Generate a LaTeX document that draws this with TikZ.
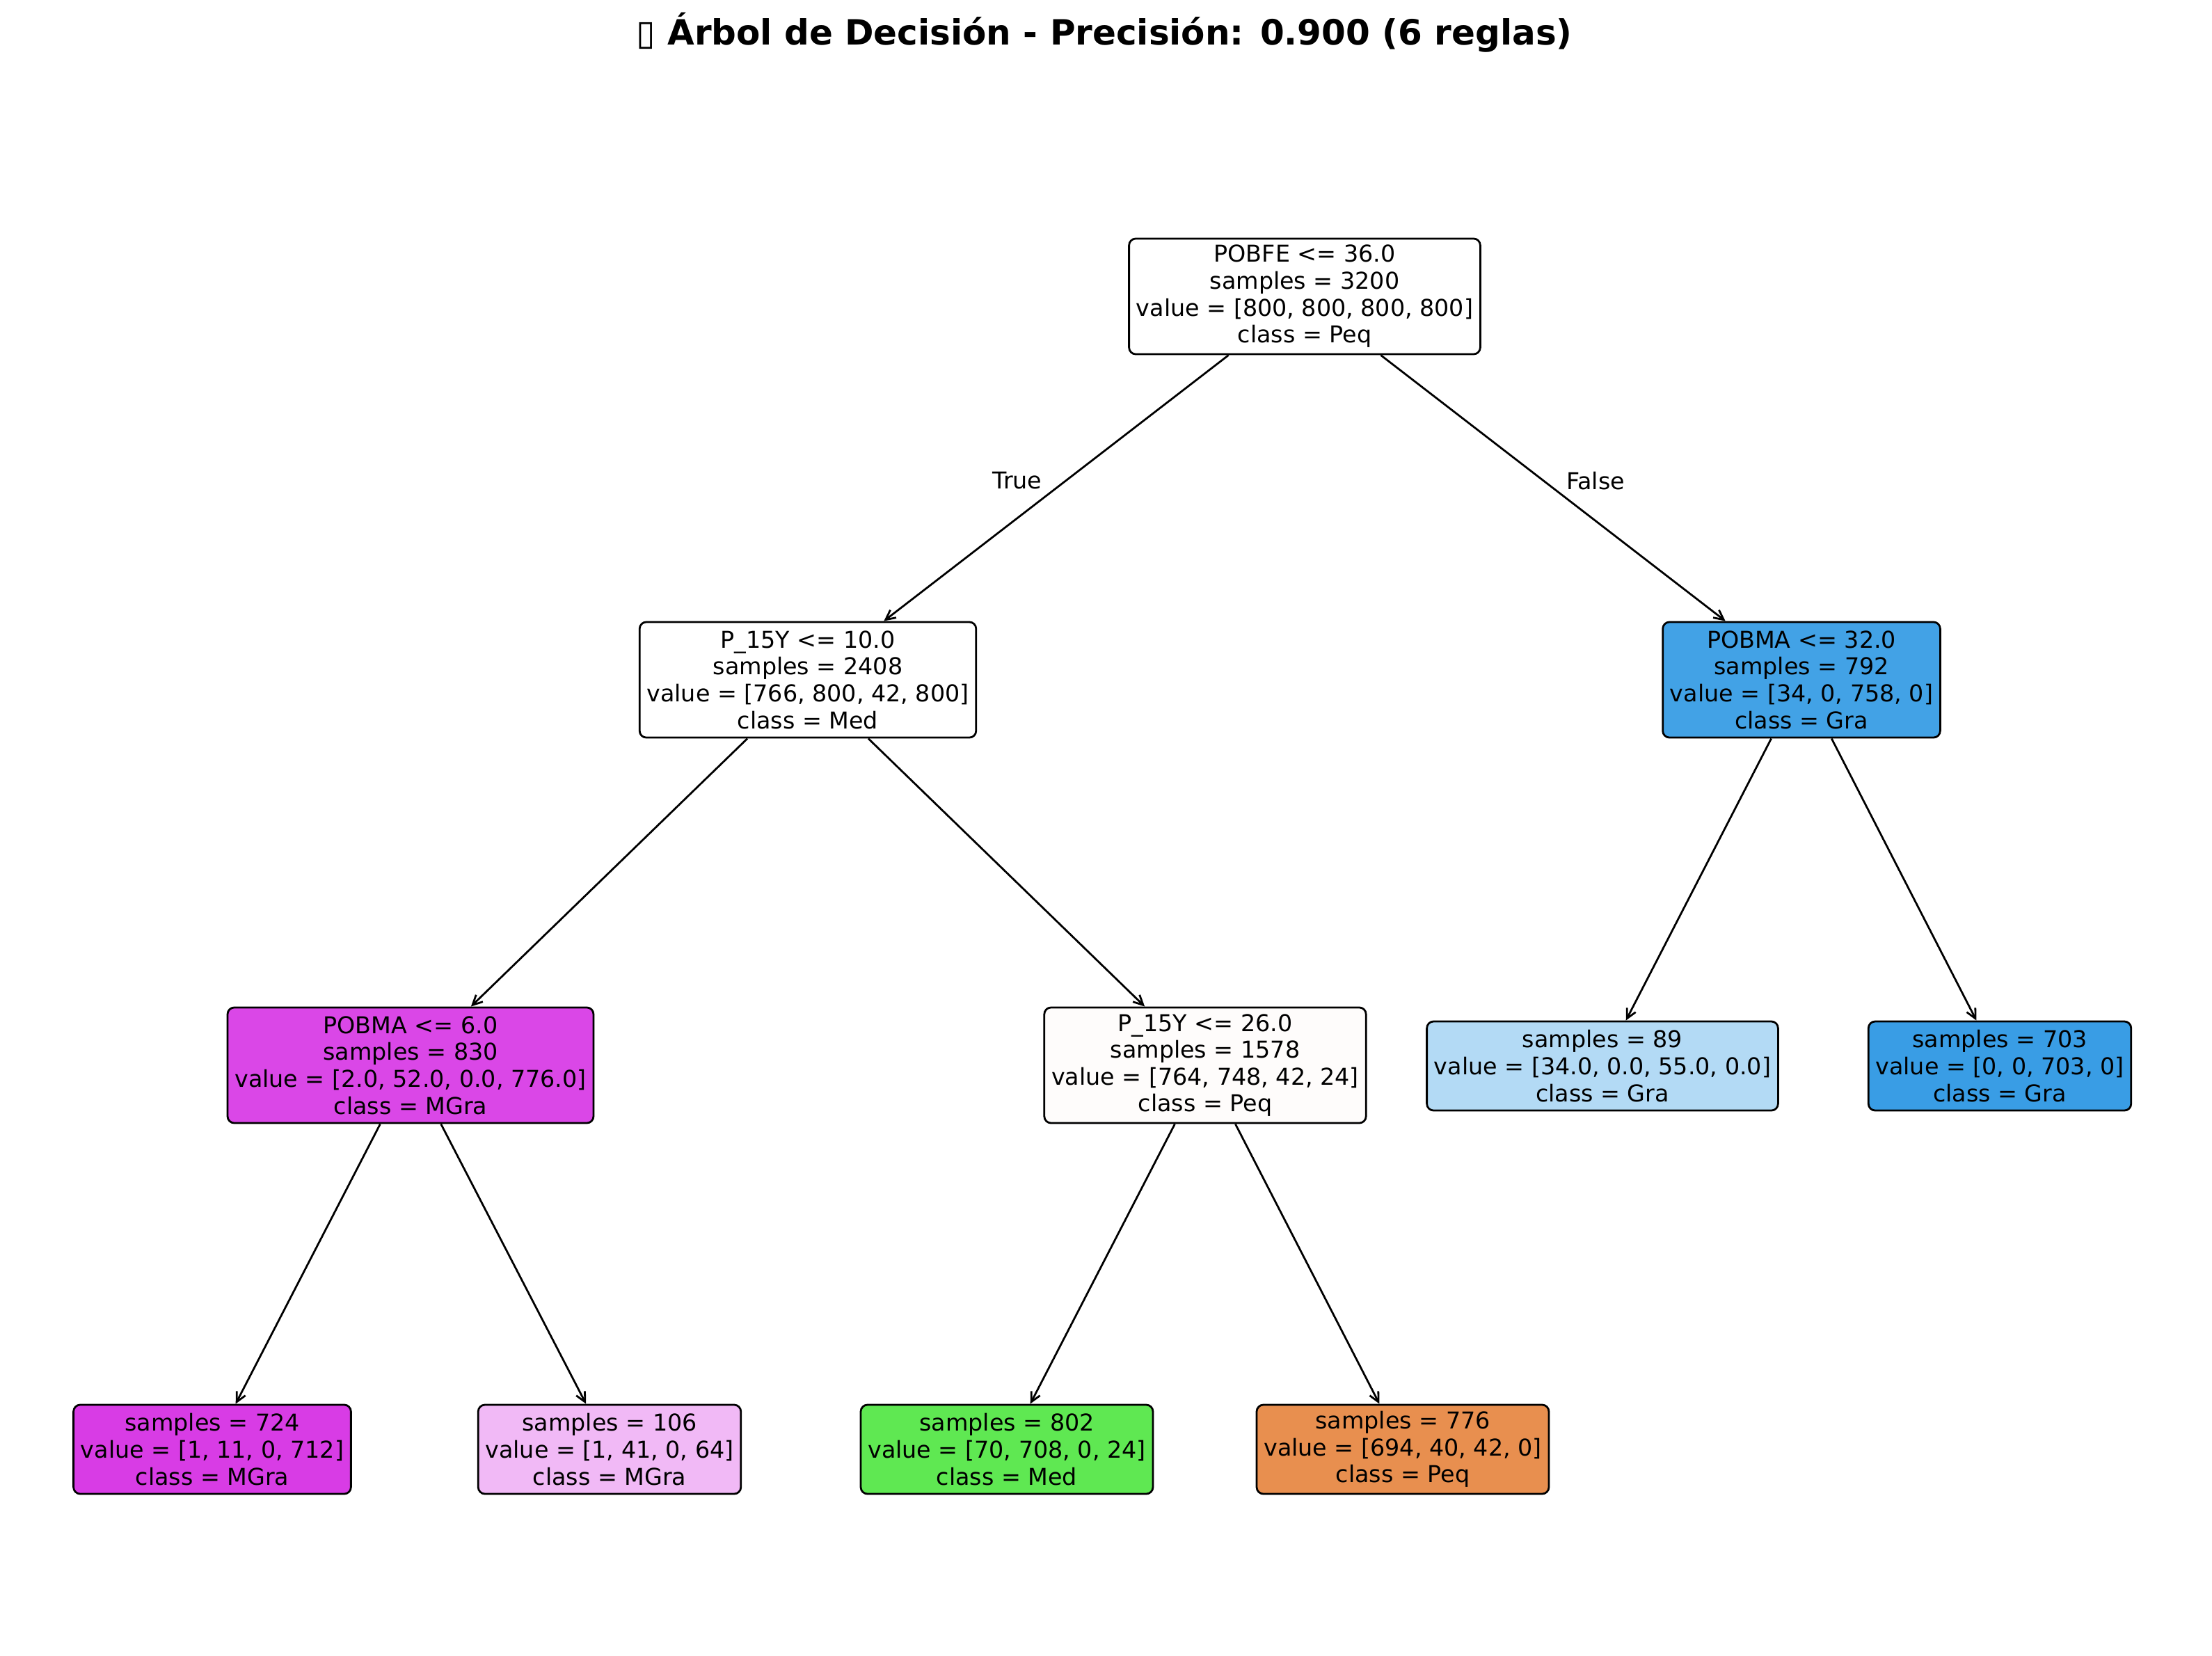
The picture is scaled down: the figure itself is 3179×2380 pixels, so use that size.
\documentclass[tikz,border=0pt]{standalone}
\usepackage{fontspec}
\setmainfont{DejaVu Sans}
\usetikzlibrary{arrows.meta}

\definecolor{gra}{HTML}{42A2E6}
\definecolor{grafull}{HTML}{399DE5}
\definecolor{gralight}{HTML}{B3DAF5}
\definecolor{mgra}{HTML}{DA47E7}
\definecolor{mgrafull}{HTML}{D83CE5}
\definecolor{mgralight}{HTML}{F1B9F6}
\definecolor{med}{HTML}{5FE852}
\definecolor{peq}{HTML}{E88F4F}
\definecolor{peqlight}{HTML}{FEFCFB}

\begin{document}
\begin{tikzpicture}
[x=0.36pt,y=-0.36pt,line width=1pt,
 treebox/.style={draw=black,fill=white,rounded corners=3.5pt,align=center,
   inner xsep=3.7pt,inner ysep=3.3pt,font=\fontsize{12}{13.9}\selectfont},
 split/.style={treebox,minimum height=59.8pt},
 leaf/.style={treebox,minimum height=46.1pt},
 edge/.style={-{Straight Barb[length=5pt,width=5pt]}},
 lbl/.style={font=\fontsize{12}{14}\selectfont}]

\useasboundingbox (0,0) rectangle (3179,2380);

\node (title) at (1587,47) {\fontsize{18}{21}\selectfont\bfseries ▯ Árbol de Decisión - Precisión: 0.900 (6 reglas)};

\node[split] (root) at (1875,426) {POBFE <= 36.0\\samples = 3200\\value = [800, 800, 800, 800]\\class = Peq}; %root
\node[split] (left) at (1161,977) {P\_15Y <= 10.0\\samples = 2408\\value = [766, 800, 42, 800]\\class = Med};
\node[split,fill=gra] (right) at (2589,977) {POBMA <= 32.0\\samples = 792\\value = [34, 0, 758, 0]\\class = Gra};

\node[split,fill=mgra] (leftleft) at (590,1531) {POBMA <= 6.0\\samples = 830\\value = [2.0, 52.0, 0.0, 776.0]\\class = MGra};
\node[split,fill=peqlight] (leftright) at (1732,1531) {P\_15Y <= 26.0\\samples = 1578\\value = [764, 748, 42, 24]\\class = Peq};
\node[leaf,fill=gralight] (rightleft) at (2303,1532) {samples = 89\\value = [34.0, 0.0, 55.0, 0.0]\\class = Gra};
\node[leaf,fill=grafull] (rightright) at (2874,1532) {samples = 703\\value = [0, 0, 703, 0]\\class = Gra};

\node[leaf,fill=mgrafull] (leaf1) at (305,2083) {samples = 724\\value = [1, 11, 0, 712]\\class = MGra};
\node[leaf,fill=mgralight] (leaf2) at (876,2083) {samples = 106\\value = [1, 41, 0, 64]\\class = MGra};
\node[leaf,fill=med] (leaf3) at (1447,2083) {samples = 802\\value = [70, 708, 0, 24]\\class = Med};
\node[leaf,fill=peq] (leaf4) at (2016,2083) {samples = 776\\value = [694, 40, 42, 0]\\class = Peq};

\draw[edge] (root) -- (left);
\draw[edge] (root) -- (right);
\draw[edge] (left) -- (leftleft);
\draw[edge] (left) -- (leftright);
\draw[edge] (right) -- (rightleft);
\draw[edge] (right) -- (rightright);
\draw[edge] (leftleft) -- (leaf1);
\draw[edge] (leftleft) -- (leaf2);
\draw[edge] (leftright) -- (leaf3);
\draw[edge] (leftright) -- (leaf4);

\node[lbl] (truelbl) at (1462,691) {True};
\node[lbl] (falselbl) at (2293,691) {False};

\end{tikzpicture}
\end{document}
